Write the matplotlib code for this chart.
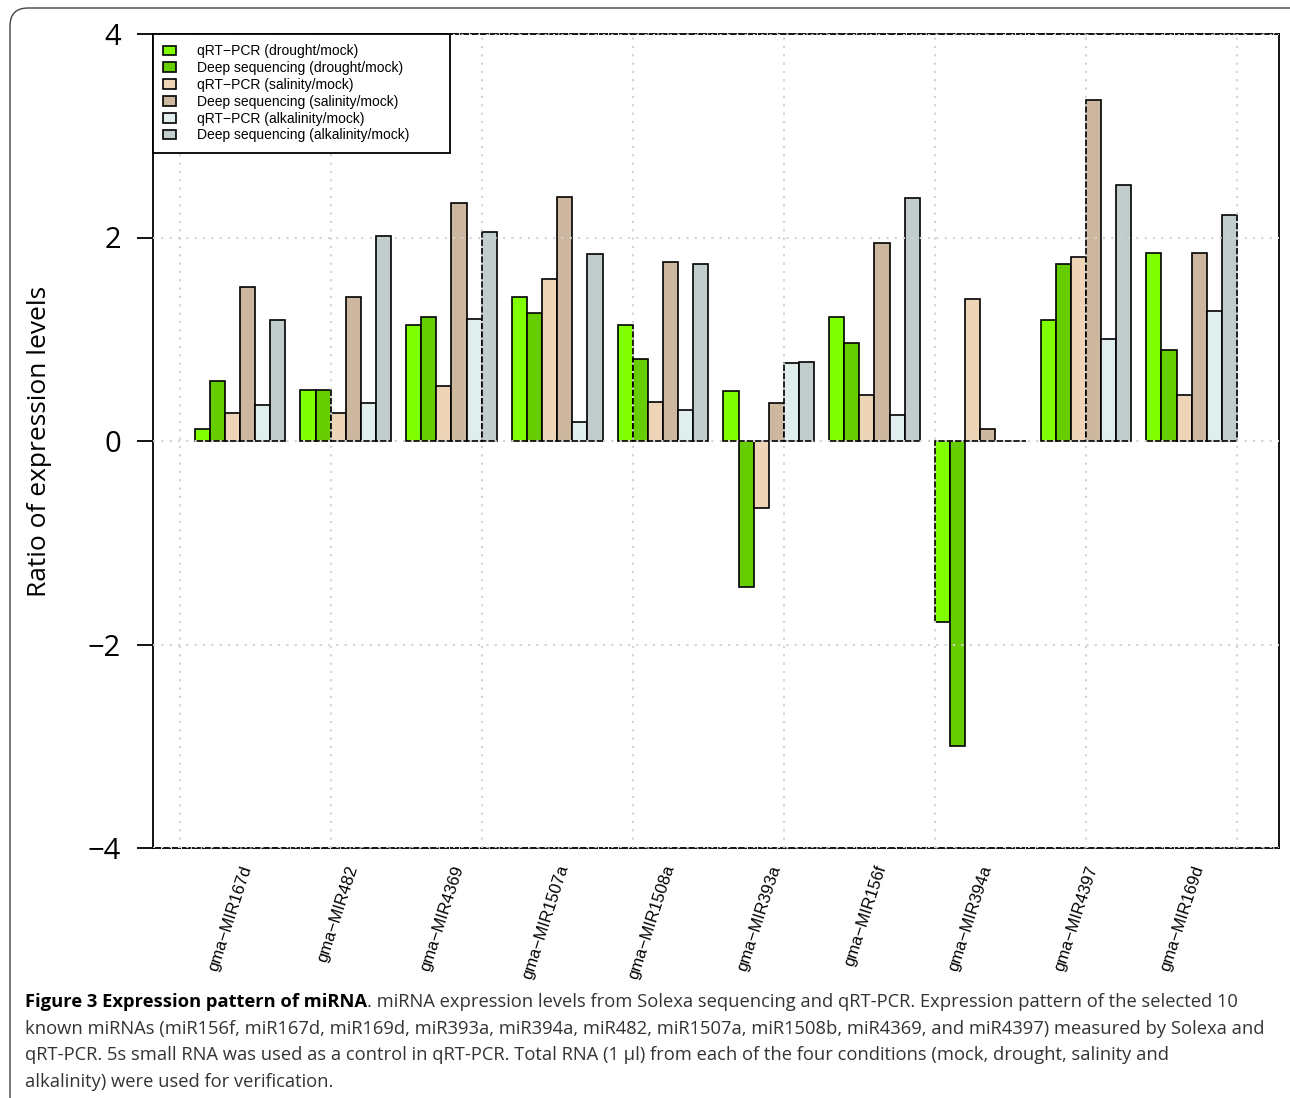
import matplotlib
matplotlib.use("Agg")
import matplotlib.pyplot as plt
import numpy as np
from matplotlib.patches import FancyBboxPatch
from matplotlib.transforms import IdentityTransform

# miRNA groups along the x axis
mirnas = ["gma\u2212MIR167d", "gma\u2212MIR482", "gma\u2212MIR4369", "gma\u2212MIR1507a",
          "gma\u2212MIR1508a", "gma\u2212MIR393a", "gma\u2212MIR156f", "gma\u2212MIR394a",
          "gma\u2212MIR4397", "gma\u2212MIR169d"]

series_labels = ["qRT\u2212PCR (drought/mock)", "Deep sequencing (drought/mock)",
                 "qRT\u2212PCR (salinity/mock)", "Deep sequencing (salinity/mock)",
                 "qRT\u2212PCR (alkalinity/mock)", "Deep sequencing (alkalinity/mock)"]

# ratio of expression levels, one list per series
qrt_drought = [0.12, 0.50, 1.14, 1.42, 1.14, 0.49, 1.22, -1.78, 1.19, 1.85]
seq_drought = [0.59, 0.50, 1.22, 1.26, 0.81, -1.43, 0.96, -3.00, 1.74, 0.89]
qrt_salinity = [0.28, 0.28, 0.54, 1.59, 0.38, -0.66, 0.45, 1.40, 1.81, 0.45]
seq_salinity = [1.51, 1.42, 2.34, 2.40, 1.76, 0.37, 1.95, 0.12, 3.35, 1.85]
qrt_alkalinity = [0.35, 0.37, 1.20, 0.19, 0.30, 0.77, 0.26, 0.0, 1.00, 1.28]
seq_alkalinity = [1.19, 2.01, 2.05, 1.84, 1.74, 0.78, 2.39, 0.0, 2.52, 2.22]

series = [qrt_drought, seq_drought, qrt_salinity, seq_salinity, qrt_alkalinity, seq_alkalinity]
colors = ["#7FFF00", "#66CD00", "#EED5B7", "#CDB79E", "#E0EEEE", "#C1CDCD"]

W, H = 1290, 1098
fig = plt.figure(figsize=(W / 100, H / 100), dpi=100)
ax = fig.add_axes([153 / W, 1 - 848 / H, (1278.7 - 153) / W, (848 - 34) / H])

# R style barplot(beside=TRUE, space=c(0,1)): unit-width bars, one unit gap per group
n_groups = len(mirnas)
n_series = len(series)
group_start = 1 + (n_series + 1) * np.arange(n_groups)
for j, (vals, col, lab) in enumerate(zip(series, colors, series_labels)):
    ax.bar(group_start + j, vals, width=1.0, align="edge", color=col,
           edgecolor="black", linewidth=1.2, label=lab, zorder=2)

span = group_start[-1] + n_series - 1
ax.set_xlim(1 - 0.04 * span, group_start[-1] + n_series + 0.04 * span)
ax.set_ylim(-4, 4)

# dotted grid drawn over the bars like R's grid()
for gx in np.arange(0, 71, 10):
    ax.axvline(gx, color="#D3D3D3", linestyle=(0, (1, 3)), linewidth=1.5, zorder=3)
for gy in np.arange(-4, 5, 2):
    ax.axhline(gy, color="#D3D3D3", linestyle=(0, (1, 3)), linewidth=1.5, zorder=3)

for side in ["top", "bottom"]:
    ax.spines[side].set_linestyle((0, (4, 1.5)))
for sp in ax.spines.values():
    sp.set_linewidth(1.3)

ax.set_yticks([-4, -2, 0, 2, 4])
ax.set_yticklabels(["\u22124", "\u22122", "0", "2", "4"], fontfamily="Open Sans", fontsize=21)
ax.tick_params(axis="y", length=11.5, width=1.3, pad=11.5)

ax.set_xticks(group_start + n_series / 2)
ax.set_xticklabels(mirnas, rotation=72, ha="right", va="top", rotation_mode="anchor",
                   fontfamily="Liberation Sans", fontsize=12)
ax.tick_params(axis="x", length=0, pad=11)

ax.set_ylabel("Ratio of expression levels", fontfamily="Open Sans", fontsize=19, labelpad=26)

leg = ax.legend(loc="upper left", bbox_to_anchor=(0, 1 - 0.1437, 0.264, 0.1437), mode="expand",
                borderaxespad=0, fancybox=False, edgecolor="black", framealpha=1,
                prop={"family": "Liberation Sans", "size": 10}, handlelength=0.9,
                handleheight=0.7, handletextpad=1.5, labelspacing=0.2, borderpad=0.75)
leg.get_frame().set_linewidth(1.3)
leg.set_zorder(5)

# caption below the chart
cap_font = {"family": "Open Sans", "size": 13.2}
x0 = 25 / W
bold = fig.text(x0, 1 - 1007 / H, "Figure 3 Expression pattern of miRNA", fontweight="bold",
                va="baseline", **cap_font)
ax.annotate(". miRNA expression levels from Solexa sequencing and qRT-PCR. Expression pattern "
            "of the selected 10", xy=(1, 0), xycoords=bold, va="bottom", ha="left",
            color="#333333", annotation_clip=False, **cap_font)
lines = ["known miRNAs (miR156f, miR167d, miR169d, miR393a, miR394a, miR482, miR1507a, miR1508b, "
         "miR4369, and miR4397) measured by Solexa and",
         "qRT-PCR. 5s small RNA was used as a control in qRT-PCR. Total RNA (1 \u00b5l) from each of "
         "the four conditions (mock, drought, salinity and",
         "alkalinity) were used for verification."]
for i, line in enumerate(lines):
    fig.text(x0, 1 - (1034 + 26.5 * i) / H, line, va="baseline", color="#333333", **cap_font)

frame = FancyBboxPatch((10, -20), 1300, 1090 + 20, boxstyle="round,pad=0,rounding_size=18",
                       transform=IdentityTransform(), fill=False, edgecolor="#444444",
                       linewidth=1.0)
fig.patches.append(frame)

fig.savefig("out.png", dpi=100)
